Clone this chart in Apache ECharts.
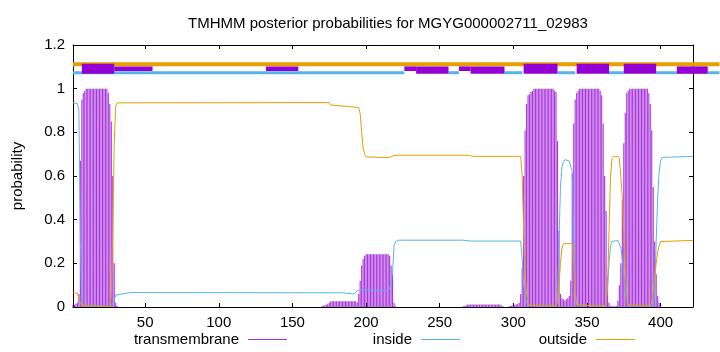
<!DOCTYPE html>
<html><head><meta charset="utf-8">
<script src="https://cdn.jsdelivr.net/npm/echarts@6/dist/echarts.min.js"></script>
<style>html,body{margin:0;padding:0;background:#fff}#c{width:720px;height:352px}</style>
</head><body><div id="c"></div>
<script>
// ---------------- data ----------------
const chartTitle = 'TMHMM posterior probabilities for MGYG000002711_02983';
const seqStart = 1;
const seqEnd = 422;
const xTickValues = [50, 100, 150, 200, 250, 300, 350, 400];
const yTickValues = [0, 0.2, 0.4, 0.6, 0.8, 1, 1.2];

// transmembrane posterior per residue (segments start at given residue)
const tm1Start = 1;
const tm1 = [0.01,0.01,0.015,0.02,0.06,0.67,0.95,0.98,0.99,
  1,1,1,1,1,1,1,1,1,1,1,1,1,1,1,
  0.98,0.93,0.85,0.6,0.2,0.02,0.005];
const tm2Start = 170;
const tm2 = [0.003,0.006,0.008,0.01,0.015,0.02,
  0.026,0.026,0.026,0.026,0.026,0.026,0.026,0.026,0.026,0.026,0.026,0.026,0.026,0.026,0.026,0.026,0.026,0.026,
  0.022,0.06,0.12,0.19,0.22,0.235,
  0.242,0.242,0.242,0.242,0.242,0.242,0.242,0.242,0.242,0.242,0.242,0.242,0.242,0.242,0.242,0.242,
  0.235,0.19,0.15,0.02,0.005];
const tm3Start = 266;
const tm3 = [0.003,0.005,0.008,
  0.011,0.011,0.011,0.011,0.011,0.011,0.011,0.011,0.011,0.011,0.011,0.011,0.011,0.011,0.011,0.011,0.011,0.011,0.011,0.011,0.011,0.011,0.011,
  0.006,0.003];
const tm4Start = 297;
const tm4 = [0.003,0.005,0.007,0.01,0.01,0.012,0.015,0.02,0.06,0.18,0.6,0.81,0.93,0.97,0.975,0.985,0.99,
  1,1,1,1,1,1,1,1,1,1,1,1,1,1,
  0.99,0.985,0.76,0.35,0.06,0.04,0.035,0.03,0.035,0.04,0.05,0.12,0.61,0.84,0.95,0.98,0.99,
  1,1,1,1,1,1,1,1,1,1,1,1,1,1,
  0.99,0.97,0.84,0.6,0.44,0.14,0.02,0.005,0.003,0.003,0.003,0.005,0.03,0.1,0.2,0.49,0.75,0.89,0.98,0.99,
  1,1,1,1,1,1,1,1,1,1,1,1,1,
  0.98,0.93,0.81,0.55,0.3,0.15,0.05,0.02,0.005];

// inside / outside posterior, [residue, probability]
const insideCurve = [[1,0.936],[4,0.932],[5,0.9],[6,0.3],[7,0.03],[8,0.008],[9,0.003],[27,0.003],[28,0.01],[29,0.03],[30,0.055],[31,0.062],[40,0.066],
  [185,0.065],[187,0.062],[192,0.06],[193,0.063],[194,0.075],[195,0.084],[197,0.078],[214,0.076],[215,0.08],[216,0.085],[217,0.11],[218,0.16],[219,0.28],[220,0.3],[222,0.306],
  [266,0.306],[271,0.302],[305,0.302],[306,0.22],[307,0.1],[308,0.05],[309,0.02],[310,0.008],[311,0.003],[329,0.003],[330,0.03],[331,0.3],[332,0.55],[333,0.64],[334,0.665],[335,0.675],[336,0.675],[338,0.668],[339,0.66],[340,0.62],[341,0.3],[342,0.08],[343,0.01],[344,0.002],
  [362,0.002],[363,0.02],[364,0.1],[365,0.2],[366,0.28],[367,0.3],[368,0.305],[371,0.305],[372,0.3],[373,0.27],[374,0.22],[375,0.15],[376,0.07],[377,0.03],[378,0.005],
  [395,0.005],[396,0.05],[397,0.3],[398,0.5],[399,0.62],[400,0.67],[401,0.685],[402,0.69],[422,0.69]];
const outsideCurve = [[1,0.065],[4,0.063],[5,0.04],[6,0.02],[7,0.006],[8,0.002],[26,0.002],[27,0.06],[28,0.35],[29,0.75],[30,0.92],[31,0.935],[32,0.936],
  [175,0.936],[176,0.925],[177,0.916],[195,0.914],[196,0.885],[197,0.8],[198,0.73],[199,0.7],[200,0.688],[201,0.685],[215,0.684],[217,0.688],[219,0.694],[222,0.695],
  [270,0.695],[272,0.69],[305,0.69],[306,0.6],[307,0.35],[308,0.15],[309,0.06],[310,0.02],[311,0.008],[312,0.004],[329,0.004],[330,0.02],[331,0.1],[332,0.2],[333,0.27],[334,0.29],[340,0.29],[341,0.2],[342,0.05],[343,0.01],[344,0.003],
  [362,0.003],[363,0.02],[364,0.1],[365,0.35],[366,0.6],[367,0.68],[368,0.69],[371,0.69],[372,0.68],[373,0.6],[374,0.5],[375,0.35],[376,0.18],[377,0.06],[378,0.01],
  [393,0.005],[394,0.02],[395,0.07],[396,0.14],[397,0.2],[398,0.25],[399,0.28],[400,0.3],[401,0.305],[422,0.305]];

// topology bars above the plot: [from, to]
const outsideBars = [[1, 440]];
const insideBars = [[1,226],[256,263],[294,306],[330,342],[365,375],[397,411],[432,440]];
const helixBoxes = [[7,29],[307,330],[343,365],[375,397]];
const mediumBoxes = [[234,256],[271,294],[411,432]];
const shortBoxes = [[29,55],[132,154],[226,234],[263,271]];
const outsideLevel = 1.112, insideLevel = 1.073;
const helixRange = [1.068, 1.114], mediumRange = [1.068, 1.102], shortRange = [1.081, 1.102];

// ---------------- build ----------------
const colTM = '#9400D3', colIn = '#56B4E9', colOut = '#E69F00';
function seg(start, arr) { return arr.map((v, i) => [start + i, v]); }
const tmData = [].concat(seg(tm1Start, tm1), seg(tm2Start, tm2), seg(tm3Start, tm3), seg(tm4Start, tm4));

function barSeries(bars, level, color, width, z) {
  return {
    type: 'custom', clip: false, silent: true, z: z,
    data: bars.map(b => [b[0], b[1], level]),
    encode: { x: [0, 1], y: 2 },
    renderItem: (params, api) => {
      const a = api.coord([api.value(0), api.value(2)]);
      const b = api.coord([api.value(1), api.value(2)]);
      return { type: 'line', shape: { x1: a[0], y1: a[1], x2: b[0], y2: b[1] },
        style: { stroke: color, lineWidth: width } };
    }
  };
}
function boxSeries(boxes, range, z) {
  return {
    type: 'custom', clip: false, silent: true, z: z,
    data: boxes.map(b => [b[0], b[1], range[0], range[1]]),
    encode: { x: [0, 1], y: [2, 3] },
    renderItem: (params, api) => {
      const p0 = api.coord([api.value(0), api.value(3)]);
      const p1 = api.coord([api.value(1), api.value(2)]);
      return { type: 'rect', shape: { x: p0[0], y: p0[1], width: p1[0] - p0[0], height: p1[1] - p0[1] },
        style: { fill: colTM } };
    }
  };
}

const font = 'Liberation Sans, Arial, sans-serif';
const fs = 15;
const axisCommon = {
  axisLine: { onZero: false, lineStyle: { color: '#000', width: 1 } },
  splitLine: { show: false },
};
const chart = echarts.init(document.getElementById('c'), null, { renderer: 'canvas' });
chart.setOption({
  animation: false,
  backgroundColor: '#fff',
  title: { text: chartTitle, left: 383, top: 11, textAlign: 'center',
    textStyle: { fontFamily: font, fontSize: fs, fontWeight: 'normal', color: '#000' } },
  grid: { left: 73, right: 27, top: 45, bottom: 45 },
  legend: [
    { data: [{ name: 'transmembrane', icon: 'rect', itemStyle: { color: colTM } }], right: 433 },
    { data: [{ name: 'inside', icon: 'rect', itemStyle: { color: colIn } }], right: 260 },
    { data: [{ name: 'outside', icon: 'rect', itemStyle: { color: colOut } }], right: 85 }
  ].map(l => Object.assign(l, { top: 332, align: 'right', itemWidth: 39, itemHeight: 1, selectedMode: false, padding: 0,
    textStyle: { fontFamily: font, fontSize: fs, color: '#000', padding: [0, 4, 0, 0] } })),
  xAxis: [
    Object.assign({ type: 'value', min: seqStart, max: seqEnd, position: 'bottom',
      axisTick: { inside: true, length: 4, customValues: xTickValues, lineStyle: { color: '#000' } },
      axisLabel: { customValues: xTickValues, color: '#000', fontFamily: font, fontSize: fs, margin: 8 } }, axisCommon),
    Object.assign({ type: 'value', min: seqStart, max: seqEnd, position: 'top',
      axisTick: { inside: true, length: 4, customValues: xTickValues, lineStyle: { color: '#000' } },
      axisLabel: { show: false } }, axisCommon)
  ],
  yAxis: [
    Object.assign({ type: 'value', min: 0, max: 1.2, interval: 0.2, position: 'left',
      name: 'probability', nameLocation: 'middle', nameGap: 48, nameRotate: 90,
      nameTextStyle: { fontFamily: font, fontSize: fs, color: '#000' },
      axisTick: { inside: true, length: 4, lineStyle: { color: '#000' } },
      axisLabel: { color: '#000', fontFamily: font, fontSize: fs, margin: 8 } }, axisCommon),
    Object.assign({ type: 'value', min: 0, max: 1.2, interval: 0.2, position: 'right',
      axisTick: { inside: true, length: 4, lineStyle: { color: '#000' } },
      axisLabel: { show: false } }, axisCommon)
  ],
  series: [
    { name: 'transmembrane', type: 'bar', data: tmData, barWidth: 1.1, itemStyle: { color: colTM, opacity: 0.8 }, z: 2, silent: true },
    { name: 'inside', type: 'line', data: insideCurve, showSymbol: false, lineStyle: { color: colIn, width: 1 }, itemStyle: { color: colIn }, z: 3, silent: true },
    { name: 'outside', type: 'line', data: outsideCurve, showSymbol: false, lineStyle: { color: colOut, width: 1 }, itemStyle: { color: colOut }, z: 4, silent: true },
    barSeries(insideBars, insideLevel, colIn, 3, 5),
    barSeries(outsideBars, outsideLevel, colOut, 4, 5),
    boxSeries(shortBoxes, shortRange, 6),
    boxSeries(mediumBoxes, mediumRange, 6),
    boxSeries(helixBoxes, helixRange, 6)
  ]
});
</script></body></html>
